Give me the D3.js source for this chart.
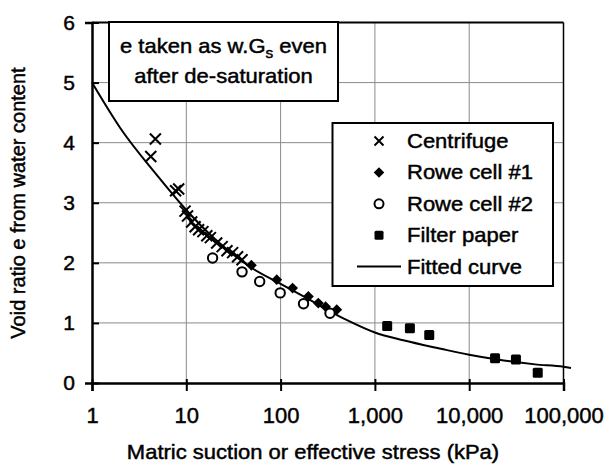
<!DOCTYPE html>
<html>
<head>
<meta charset="utf-8">
<script src="https://cdn.jsdelivr.net/npm/d3@7"></script>
<style>
  body { margin: 0; background: #fff; }
  svg { font-family: "Liberation Sans", Arial, sans-serif; }
  svg text { stroke: #000; stroke-width: 0.45px; }
</style>
</head>
<body>
<div id="chart"></div>
<script>
// data: [suction kPa, void ratio]
const centrifuge = [
  [4.2, 3.77], [4.7, 4.06], [7.7, 3.2], [8.3, 3.23], [9.7, 2.86], [10.3, 2.78],
  [11.4, 2.68], [12.4, 2.6], [13.5, 2.55], [15, 2.52], [16.5, 2.45], [18, 2.42],
  [21, 2.33], [24, 2.27], [27, 2.2], [31, 2.17], [35, 2.1], [39, 2.05]
];
const roweCell1 = [[49, 1.96], [91, 1.72], [134, 1.58], [197, 1.44], [251, 1.33], [300, 1.27], [394, 1.22]];
const roweCell2 = [[19, 2.08], [39, 1.85], [60, 1.69], [99, 1.5], [175, 1.32], [334, 1.16]];
const filterPaper = [[1350, 0.95], [2350, 0.91], [3770, 0.8], [18800, 0.41], [31300, 0.39], [53300, 0.17]];
const fittedCurve = [
  [1, 5.0], [2, 4.24], [5, 3.44], [10, 2.88], [20, 2.4], [50, 1.91], [100, 1.65],
  [200, 1.39], [500, 1.05], [1000, 0.84], [2000, 0.71], [5000, 0.57], [10000, 0.47],
  [20000, 0.39], [50000, 0.31], [100000, 0.27], [120000, 0.25]
];
const xTicks = [1, 10, 100, 1000, 10000, 100000];
const yTicks = [0, 1, 2, 3, 4, 5, 6];
const legendNames = ["Centrifuge", "Rowe cell #1", "Rowe cell #2", "Filter paper", "Fitted curve"];

const W = 606, H = 466;
const svg = d3.select("#chart").append("svg").attr("width", W).attr("height", H);

const x = d3.scaleLog().domain([1, 100000]).range([92, 563.5]);
const y = d3.scaleLinear().domain([0, 6]).range([383, 22.5]);

// the scanned lettering is a bit wider than Arial
const stretch = 1.1;
function label(px, py, anchor, size) {
  return svg.append("text")
    .attr("transform", `translate(${px},${py}) scale(${stretch},1)`)
    .attr("text-anchor", anchor).style("font-size", size + "px");
}

// grid
svg.append("g").selectAll("line").data(xTicks.slice(1, -1)).join("line")
  .attr("x1", d => x(d)).attr("x2", d => x(d)).attr("y1", y(0)).attr("y2", y(6))
  .attr("stroke", "#8a8a8a").attr("stroke-width", 1);
svg.append("g").selectAll("line").data(yTicks.slice(1, -1)).join("line")
  .attr("x1", x(1)).attr("x2", x(100000)).attr("y1", d => y(d)).attr("y2", d => y(d))
  .attr("stroke", "#8a8a8a").attr("stroke-width", 1);

// frame
svg.append("line").attr("x1", x(1)).attr("x2", x(100000)).attr("y1", y(6)).attr("y2", y(6))
  .attr("stroke", "#000").attr("stroke-width", 2);
svg.append("line").attr("x1", x(100000)).attr("x2", x(100000)).attr("y1", y(6)).attr("y2", y(0))
  .attr("stroke", "#000").attr("stroke-width", 1.5);

// axes
const xAxis = svg.append("g").attr("transform", `translate(0,${y(0)})`)
  .call(d3.axisBottom(x).tickValues(xTicks).tickFormat(d3.format(",")).tickSize(8).tickPadding(16));
const yAxis = svg.append("g").attr("transform", `translate(${x(1)},0)`)
  .call(d3.axisLeft(y).tickValues(yTicks).tickFormat(d3.format("d")).tickSize(7).tickPadding(10));
[xAxis, yAxis].forEach(g => {
  g.select(".domain").attr("stroke", "#000").attr("stroke-width", 2.5);
  g.selectAll(".tick line").attr("stroke", "#000").attr("stroke-width", 2);
  g.selectAll(".tick text").attr("fill", "#000").style("font-size", "21px")
    .style("font-family", "'Liberation Sans', Arial, sans-serif");
});
xAxis.selectAll(".tick text").style("font-size", "22px");
// ticks cross the axis slightly
xAxis.selectAll(".tick line").attr("y1", -4);
yAxis.selectAll(".tick line").attr("x2", 7);

const line = d3.line().x(d => x(d[0])).y(d => y(d[1])).curve(d3.curveMonotoneX);
svg.append("path").datum(fittedCurve).attr("d", line)
  .attr("fill", "none").attr("stroke", "#000").attr("stroke-width", 2);

// markers
function drawCross(g, cx, cy, s) {
  g.append("path").attr("d", `M${cx - s},${cy - s}L${cx + s},${cy + s}M${cx - s},${cy + s}L${cx + s},${cy - s}`)
    .attr("stroke", "#000").attr("stroke-width", 2).attr("fill", "none");
}
const markers = svg.append("g");
centrifuge.forEach(d => drawCross(markers, x(d[0]), y(d[1]), 5.5));
markers.selectAll(".diamond").data(roweCell1).join("path").attr("class", "diamond")
  .attr("d", d3.symbol(d3.symbolDiamond2, 75))
  .attr("transform", d => `translate(${x(d[0])},${y(d[1])})`).attr("fill", "#000");
markers.selectAll(".circle").data(roweCell2).join("circle").attr("class", "circle")
  .attr("cx", d => x(d[0])).attr("cy", d => y(d[1])).attr("r", 4.7)
  .attr("fill", "#fff").attr("stroke", "#000").attr("stroke-width", 2);
markers.selectAll(".square").data(filterPaper).join("rect").attr("class", "square")
  .attr("x", d => x(d[0]) - 5).attr("y", d => y(d[1]) - 5).attr("width", 10).attr("height", 10)
  .attr("rx", 1.5).attr("fill", "#000");

// note box
svg.append("rect").attr("x", 109).attr("y", 22).attr("width", 229).attr("height", 79)
  .attr("fill", "#fff").attr("stroke", "#000").attr("stroke-width", 2);
const note1 = label(223.5, 53, "middle", 20);
note1.append("tspan").text("e taken as w.G");
note1.append("tspan").attr("dy", 5).style("font-size", "14px").text("s");
note1.append("tspan").attr("dy", -5).text(" even");
label(223.5, 83, "middle", 20).text("after de-saturation");

// legend
svg.append("rect").attr("x", 332.5).attr("y", 123).attr("width", 220.5).attr("height", 163)
  .attr("fill", "#fff").attr("stroke", "#000").attr("stroke-width", 2);
const legY = i => 141 + i * 31.4;
const lx = 379;
drawCross(svg, lx, legY(0), 4.5);
svg.append("path").attr("d", d3.symbol(d3.symbolDiamond2, 70))
  .attr("transform", `translate(${lx},${legY(1)})`).attr("fill", "#000");
svg.append("circle").attr("cx", lx).attr("cy", legY(2)).attr("r", 4.5)
  .attr("fill", "#fff").attr("stroke", "#000").attr("stroke-width", 2);
svg.append("rect").attr("x", lx - 4.5).attr("y", legY(3) - 4.5).attr("width", 9).attr("height", 9)
  .attr("rx", 1.5).attr("fill", "#000");
svg.append("line").attr("x1", 357).attr("x2", 401).attr("y1", legY(4)).attr("y2", legY(4))
  .attr("stroke", "#000").attr("stroke-width", 2);
legendNames.forEach((name, i) => label(407, legY(i) + 7, "start", 20).text(name));

// axis titles
label(313, 459, "middle", 20).text("Matric suction or effective stress (kPa)");
svg.append("text").attr("transform", "translate(25,203) rotate(-90)").attr("text-anchor", "middle")
  .style("font-size", "20px").text("Void ratio e from water content");
</script>
</body>
</html>
